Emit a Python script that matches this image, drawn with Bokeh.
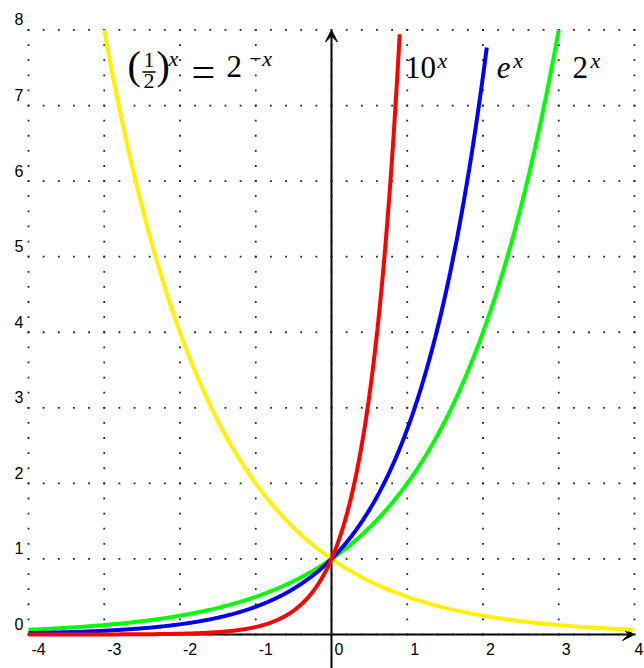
import math
import numpy as np
from bokeh.plotting import figure
from bokeh.models import Range1d, Label, Arrow, VeeHead
from bokeh.core.properties import value
from bokeh.embed import file_html
from bokeh.resources import INLINE

# ---- data -------------------------------------------------------------
x_ticks = [-4, -3, -2, -1, 0, 1, 2, 3, 4]
x_tick_labels = ["-4", "-3", "-2", "-1", "0", "1", "2", "3", "4"]
y_ticks = [0, 1, 2, 3, 4, 5, 6, 7, 8]
y_tick_labels = ["0", "1", "2", "3", "4", "5", "6", "7", "8"]

# exponential curves y = base ** x, each drawn over its own x interval
curve_names = ["half", "two", "e", "ten"]
curve_bases = [0.5, 2.0, math.e, 10.0]
curve_x_start = [-3.0, -4.0, -4.0, -4.0]
curve_x_end = [3.98, 3.0, 2.05, 0.9]

curve_colors = {"half": "#fff200", "two": "#00ff00", "e": "#0000ff", "ten": "#ff0000"}

SERIF = "Liberation Serif"
SANS = "Liberation Sans"

# ---- figure -----------------------------------------------------------
p = figure(width=644, height=668,
           x_range=Range1d(-4.3696, 4.132), y_range=Range1d(-0.450, 8.390),
           x_axis_location=None, y_axis_location=None,
           output_backend="svg", toolbar_location=None, min_border=0)
p.grid.visible = False
p.outline_line_color = None
p.background_fill_color = "white"
p.border_fill_color = "white"

# dotted grid: dots every 0.2 units along each integer line
gx, gy = [], []
steps = np.round(np.arange(0, 41) * 0.2, 6)
for xv in x_ticks:
    gx.extend([xv] * len(steps))
    gy.extend(list(steps + y_ticks[0]))
for yv in y_ticks:
    gx.extend(list(steps + x_ticks[0]))
    gy.extend([yv] * len(steps))
p.scatter(gx, gy, marker="square", size=1.8, color="#222222", line_width=0)

# coordinate axes with arrow heads
ax_y = Arrow(end=VeeHead(size=12, fill_color="black", line_color="black"),
             x_start=0, y_start=-0.45, x_end=0, y_end=y_ticks[-1],
             line_width=2, line_color="black", level="underlay")
ax_x = Arrow(end=VeeHead(size=12, fill_color="black", line_color="black"),
             x_start=x_ticks[0], y_start=0, x_end=x_ticks[-1], y_end=0,
             line_width=2, line_color="black", level="underlay")
p.add_layout(ax_y)
p.add_layout(ax_x)

# tick labels (the last x label is pulled in so it stays on the page)
p.text(x=x_ticks[:-1], y=[-0.1985] * (len(x_ticks) - 1), text=x_tick_labels[:-1], x_offset=3,
       text_align="left", text_baseline="middle",
       text_font=value(SANS), text_font_size="16px", text_color="black")
p.text(x=x_ticks[-1:], y=[-0.1985], text=x_tick_labels[-1:], x_offset=9,
       text_align="right", text_baseline="middle",
       text_font=value(SANS), text_font_size="16px", text_color="black")
p.text(x=[x_ticks[0]] * len(y_ticks), y=[v + 0.139 for v in y_ticks], text=y_tick_labels,
       x_offset=-5, text_align="right", text_baseline="middle",
       text_font=value(SANS), text_font_size="16px", text_color="black")

# curves
for name, base, xs, xe in zip(curve_names, curve_bases, curve_x_start, curve_x_end):
    xx = np.linspace(xs, xe, 500)
    p.line(xx, base ** xx, line_color=curve_colors[name], line_width=4)


def lab(x, y, text, size, italic=False, align="left"):
    p.add_layout(Label(x=x, y=y, text=text, text_font=SERIF,
                       text_font_size=f"{size}px",
                       text_font_style="italic" if italic else "normal",
                       text_align=align, text_baseline="middle",
                       text_color="black"))


# 10^x
lab(0.97, 7.504, "10", 31)
lab(1.40, 7.60, "x", 22, italic=True)
# e^x
lab(2.18, 7.50, "e", 31, italic=True)
lab(2.40, 7.60, "x", 22, italic=True)
# 2^x
lab(3.18, 7.504, "2", 31)
lab(3.42, 7.60, "x", 22, italic=True)

# (1/2)^x = 2^-x
lab(-2.693, 7.528, "(", 40)
lab(-2.409, 7.603, "1", 22, align="center")
p.segment(x0=[-2.495], y0=[7.444], x1=[-2.323], y1=[7.444], line_color="black", line_width=1.3)
lab(-2.409, 7.325, "2", 22, align="center")
lab(-2.310, 7.528, ")", 40)
lab(-2.152, 7.626, "x", 22, italic=True)
lab(-1.848, 7.44, "=", 42)
lab(-1.386, 7.517, "2", 31)
lab(-1.109, 7.62, "\u2212x", 22, italic=True)

open("out.html", "w").write(file_html(p, INLINE))
